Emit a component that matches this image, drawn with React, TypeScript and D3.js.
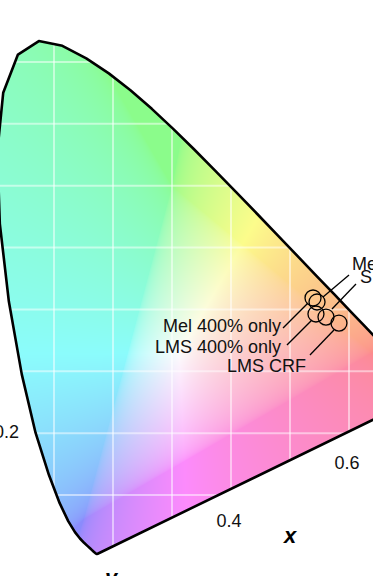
import React, { useMemo } from "react";
import * as d3 from "d3";

const width = 373;
const height = 576;

// CIE 1931 2deg spectral locus (chromaticity x, y), 380 - 700 nm
const wavelengths = [
  380, 390, 400, 410, 420, 425, 430, 435, 440, 445, 450, 455, 460, 465, 470,
  475, 480, 485, 490, 495, 500, 505, 510, 515, 520, 525, 530, 535, 540, 545,
  550, 555, 560, 565, 570, 575, 580, 585, 590, 595, 600, 605, 610, 615, 620,
  625, 630, 640, 650, 660, 700,
];
const locusX = [
  0.1741, 0.1738, 0.1733, 0.1726, 0.1714, 0.1703, 0.1689, 0.1669, 0.1644,
  0.1611, 0.1566, 0.151, 0.144, 0.1355, 0.1241, 0.1096, 0.0913, 0.0687,
  0.0454, 0.0235, 0.0082, 0.0039, 0.0139, 0.0389, 0.0743, 0.1142, 0.1547,
  0.1929, 0.2296, 0.2658, 0.3016, 0.3373, 0.3731, 0.4087, 0.4441, 0.4788,
  0.5125, 0.5448, 0.5752, 0.6029, 0.627, 0.6482, 0.6658, 0.6801, 0.6915,
  0.7006, 0.7079, 0.719, 0.726, 0.73, 0.7347,
];
const locusY = [
  0.005, 0.0049, 0.0048, 0.0048, 0.0051, 0.0058, 0.0069, 0.0086, 0.0109,
  0.0138, 0.0177, 0.0227, 0.0297, 0.0399, 0.0578, 0.0868, 0.1327, 0.2007,
  0.295, 0.4127, 0.5384, 0.6548, 0.7502, 0.812, 0.8338, 0.8262, 0.8059,
  0.7816, 0.7543, 0.7243, 0.6923, 0.6589, 0.6245, 0.5896, 0.5547, 0.5202,
  0.4866, 0.4544, 0.4242, 0.3965, 0.3725, 0.3514, 0.334, 0.3197, 0.3083,
  0.2993, 0.292, 0.2809, 0.274, 0.27, 0.2653,
];

const gridX = [0.1, 0.2, 0.3, 0.4, 0.5, 0.6, 0.7];
const gridY = [0.1, 0.2, 0.3, 0.4, 0.5, 0.6, 0.7, 0.8];
const xTickLabels = [0.4, 0.6];
const yTickLabels = [0.2];

const pointNames = ["Mel 400% only", "Mel CRF", "LMS 400% only", "S 400% only", "LMS CRF"];
const pointX = [0.539, 0.5458, 0.544, 0.561, 0.583];
const pointY = [0.4185, 0.412, 0.3926, 0.3877, 0.378];

// label placement, pixels relative to the circle centre
const labelLayout = [
  { dx: -32, dy: 34, anchor: "end", l0: [-30, 30], l1: [-5, 5] },
  { dx: 35, dy: -32, anchor: "start", l0: [6, -5], l1: [32, -27] },
  { dx: -35, dy: 39, anchor: "end", l0: [-29, 31], l1: [-4, 6] },
  { dx: 34, dy: -34, anchor: "start", l0: [6, -8], l1: [30, -33] },
  { dx: -33, dy: 49, anchor: "end", l0: [-29, 32], l1: [-5, 7] },
];

const x = d3.scaleLinear().domain([0.1, 0.6]).range([54, 349]);
const y = d3.scaleLinear().domain([0.1, 0.8]).range([495, 62]);

const font = "'Liberation Sans', Arial, Helvetica, sans-serif";

function chromaColor(cx: number, cy: number) {
  const X = cx / cy;
  const Z = (1 - cx - cy) / cy;
  let r = 3.2406 * X - 1.5372 - 0.4986 * Z;
  let g = -0.9689 * X + 1.8758 + 0.0415 * Z;
  let b = 0.0557 * X - 0.204 + 1.057 * Z;
  // lift a little of the out-of-gamut part, clip the rest
  const lift = -0.2 * Math.min(r, g, b, 0);
  r = Math.max(r + lift, 0);
  g = Math.max(g + lift, 0);
  b = Math.max(b + lift, 0);
  const m = Math.max(r, g, b) || 1;
  const gam = (v: number) =>
    v <= 0.0031308 ? 12.92 * v : 1.055 * Math.pow(v, 1 / 2.4) - 0.055;
  const mix = 0.55;
  return [r, g, b].map((v) => Math.round(252 * (mix + (1 - mix) * gam(v / m))));
}

function useChromaImage() {
  return useMemo(() => {
    const canvas = document.createElement("canvas");
    canvas.width = width;
    canvas.height = height;
    const ctx = canvas.getContext("2d");
    if (!ctx) return "";
    const img = ctx.createImageData(width, height);
    for (let py = 0; py < height; py++) {
      const cy = Math.max(y.invert(py + 0.5), 0.001);
      for (let px = 0; px < width; px++) {
        const cx = Math.max(x.invert(px + 0.5), 0.0001);
        const [r, g, b] = chromaColor(cx, cy);
        const i = (py * width + px) * 4;
        img.data[i] = r;
        img.data[i + 1] = g;
        img.data[i + 2] = b;
        img.data[i + 3] = 255;
      }
    }
    ctx.putImageData(img, 0, 0);
    return canvas.toDataURL();
  }, []);
}

export default function App() {
  const href = useChromaImage();
  const locus = wavelengths.map((w, i) => [locusX[i], locusY[i]] as [number, number]);
  const path = d3
    .line<[number, number]>()
    .x((d) => x(d[0]))
    .y((d) => y(d[1]))(locus) + "Z";

  // purple line, used to hang the x tick labels
  const first = locus[0];
  const last = locus[locus.length - 1];
  const purpleY = (v: number) =>
    first[1] + ((v - first[0]) / (last[0] - first[0])) * (last[1] - first[1]);

  return (
    <svg
      width={width}
      height={height}
      style={{ position: "absolute", left: 0, top: 0, background: "#fff" }}
      fontFamily={font}
    >
      <defs>
        <clipPath id="locus-clip">
          <path d={path} />
        </clipPath>
      </defs>
      <g clipPath="url(#locus-clip)">
        {href && <image href={href} x={0} y={0} width={width} height={height} />}
        {gridX.map((v) => (
          <line
            key={"gx" + v}
            x1={x(v)}
            x2={x(v)}
            y1={y(0)}
            y2={y(0.9)}
            stroke="#fff"
            strokeOpacity={0.5}
            strokeWidth={2}
          />
        ))}
        {gridY.map((v) => (
          <line
            key={"gy" + v}
            x1={x(-0.1)}
            x2={x(0.8)}
            y1={y(v)}
            y2={y(v)}
            stroke="#fff"
            strokeOpacity={0.5}
            strokeWidth={2}
          />
        ))}
      </g>
      <path d={path} fill="none" stroke="#000" strokeWidth={2.6} strokeLinejoin="round" />

      {xTickLabels.map((v) => (
        <text
          key={"xt" + v}
          x={x(v) - 2}
          y={y(purpleY(v)) + 38}
          textAnchor="middle"
          fontSize={18}
          fill="#111"
        >
          {v.toFixed(1)}
        </text>
      ))}
      {yTickLabels.map((v) => (
        <text key={"yt" + v} x={19} y={y(v) + 5} textAnchor="end" fontSize={18} fill="#111">
          {v.toFixed(1)}
        </text>
      ))}
      <text x={290} y={543} textAnchor="middle" fontSize={22} fontWeight="bold" fontStyle="italic">
        x
      </text>
      <text x={111} y={585} textAnchor="middle" fontSize={22} fontWeight="bold" fontStyle="italic">
        y
      </text>

      {pointNames.map((name, i) => {
        const cx = x(pointX[i]);
        const cy = y(pointY[i]);
        const l = labelLayout[i];
        return (
          <g key={name}>
            <circle cx={cx} cy={cy} r={8} fill="none" stroke="#000" strokeWidth={1.3} />
            <line
              x1={cx + l.l0[0]}
              y1={cy + l.l0[1]}
              x2={cx + l.l1[0]}
              y2={cy + l.l1[1]}
              stroke="#000"
              strokeWidth={1.3}
            />
            <text
              x={cx + l.dx}
              y={cy + l.dy}
              textAnchor={l.anchor as "start" | "end"}
              fontSize={18}
              fill="#111"
            >
              {name}
            </text>
          </g>
        );
      })}
    </svg>
  );
}
